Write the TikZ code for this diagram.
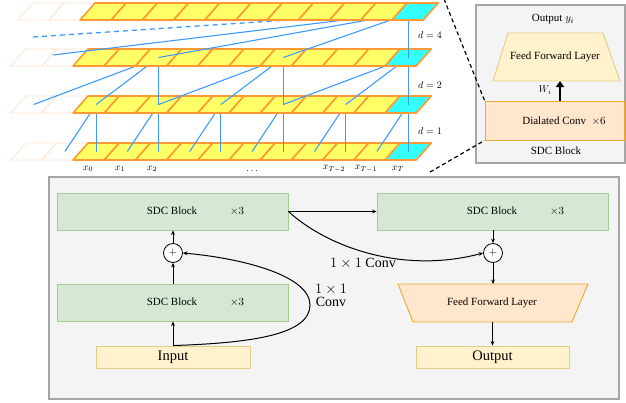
\documentclass[tikz,border=0pt]{standalone}
\usepackage{fontspec}
\setmainfont{Liberation Serif}
\usetikzlibrary{arrows.meta,calc}
\definecolor{cellyellow}{HTML}{FFFF66}
\definecolor{cellorange}{HTML}{FF9933}
\definecolor{cellcyan}{HTML}{33FFFF}
\definecolor{fadeorange}{HTML}{FFE2CC}
\definecolor{linkblue}{HTML}{3D9BFF}
\definecolor{greenfill}{HTML}{D5E8D4}
\definecolor{greendraw}{HTML}{A3CC91}
\definecolor{ioyfill}{HTML}{FFF2CC}
\definecolor{ioydraw}{HTML}{E5CC85}
\definecolor{ffofill}{HTML}{FFE6CC}
\definecolor{ffodraw}{HTML}{F0A830}
\definecolor{panelfill}{HTML}{F4F4F4}
\definecolor{paneldraw}{HTML}{A6A6A6}
\newcommand{\drawstrip}[3]{%
  \foreach \i in {-2,-1}{
    \draw[fadebox] ({73+#3+31.2*(\i)},{#2+17}) -- ++(31.2,0) -- ++(15,-17) -- ++(-31.2,0) -- cycle;
  }
  \foreach \i in {0,...,9}{
    \draw[cellbox] ({73+#3+31.2*(\i)},{#2+17}) -- ++(31.2,0) -- ++(15,-17) -- ++(-31.2,0) -- cycle;
  }
  \draw[cyanbox] ({73+#3+312},{#2+17}) -- ++(31.2,0) -- ++(15,-17) -- ++(-31.2,0) -- cycle;
}
\begin{document}
\begin{tikzpicture}[x=1pt,y=-1pt,
  fadebox/.style={draw=fadeorange, line width=0.8pt, line join=round},
  cellbox/.style={fill=cellyellow, draw=cellorange, line width=1.6pt, line join=round},
  cyanbox/.style={fill=cellcyan, draw=cellorange, line width=1.6pt, line join=round},
  link/.style={draw=linkblue, line width=1.1pt},
  dlabel/.style={font=\fontsize{10}{12}\selectfont, inner sep=0},
  xlabel/.style={font=\fontsize{10}{12}\selectfont, inner sep=0},
  zoomline/.style={draw=black, line width=1.2pt, dash pattern=on 4pt off 3pt},
  panel/.style={draw=paneldraw, fill=panelfill, line width=1.2pt, inner sep=0},
  greenbox/.style={draw=greendraw, fill=greenfill, line width=0.9pt, inner sep=0, minimum width=231pt, minimum height=37pt},
  iobox/.style={draw=ioydraw, fill=ioyfill, line width=0.9pt, inner sep=0, minimum width=154pt, minimum height=22pt, font=\fontsize{14.5}{16}\selectfont},
  txt/.style={font=\fontsize{11}{13}\selectfont, inner sep=0},
  bigtxt/.style={font=\fontsize{14}{15}\selectfont, inner sep=0},
  plus/.style={circle, draw=black, fill=white, line width=0.8pt, minimum size=19pt, inner sep=0, font=\fontsize{11}{11}\selectfont},
  arr/.style={draw=black, line width=1pt, -{Stealth[length=4.5pt,width=3.8pt]}}
]
\useasboundingbox (0,0) rectangle (626,402);

% ---------- cell centre coordinates ----------
\foreach \rr/\yt/\sh in {1/3/7, 2/49/0, 3/96/0, 4/143/0}{
  \foreach \i in {-2,...,10}{
    \coordinate (r\rr x\i) at ({96.1+\sh+31.2*(\i)},{\yt+8.5});
  }
}
\coordinate (s2) at (53,55);
\coordinate (s1) at (33,37);

% ---------- row 4 and d=1 links ----------
\drawstrip{4}{143}{0}
\foreach \j in {0,2,...,10}{
  \pgfmathtruncatemacro\jm{\j-1}
  \draw[link] (r4x\jm) -- (r3x\j);
  \draw[link] (r4x\j) -- (r3x\j);
}
% ---------- row 3 and d=2 links ----------
\drawstrip{3}{96}{0}
\foreach \j in {2,6,10}{
  \pgfmathtruncatemacro\ja{\j-4}
  \pgfmathtruncatemacro\jb{\j-2}
  \draw[link] (r3x\ja) -- (r2x\j);
  \draw[link] (r3x\jb) -- (r2x\j);
  \draw[link] (r3x\j) -- (r2x\j);
}
% ---------- row 2 and d=4 links ----------
\drawstrip{2}{49}{0}
\draw[link] (s2) -- (r1x10);
\draw[link] (r2x2) -- (r1x10);
\draw[link] (r2x6) -- (r1x10);
\draw[link] (r2x10) -- (r2x10 |- r1x10);
\draw[link, line width=1.3pt, dash pattern=on 5pt off 4pt] (s1) -- (r1x10);
% ---------- row 1 ----------
\drawstrip{1}{3}{7}

% labels
\node[dlabel] (d4) at (430,35) {$d=4$};
\node[dlabel] (d2) at (430,85) {$d=2$};
\node[dlabel] (d1) at (430,131) {$d=1$};
\node[xlabel] (l0) at (88,169) {$x_0$};
\node[xlabel] (l1) at (120,169) {$x_1$};
\node[xlabel] (l2) at (152,169) {$x_2$};
\node[xlabel] (ldots) at (252,171) {$\cdots$};
\node[xlabel] (l8) at (334,169) {$x_{T-2}$};
\node[xlabel] (l9) at (366,169) {$x_{T-1}$};
\node[xlabel] (l10) at (398,169) {$x_T$};

% ---------- top-right SDC block ----------
\node[panel, minimum width=149pt, minimum height=158pt] (sdcpanel) at (550.5,84) {};
\node[txt] (outy) at (553,19) {Output $y_i$};
\draw[draw=ioydraw, fill=ioyfill, line width=0.9pt] (508,33) -- (603,33) -- (620,81) -- (493,81) -- cycle;
\node[txt] (fftop) at (555,57) {Feed Forward Layer};
\node[draw=ffodraw, fill=ffofill, line width=0.9pt, inner sep=0, minimum width=139pt, minimum height=39pt] (dial) at (554.5,120.5) {};
\node[txt] (dialtxt) at (564,121) {Dialated Conv~~$\times6$};
\node[txt] (sdcname) at (556,151) {SDC Block};
\coordinate (ffin) at (560,81);
\draw[draw=black, line width=2.2pt, -{Triangle[length=6pt,width=8pt]}] (dial.north -| ffin) -- (ffin);
\node[font=\fontsize{10}{12}\selectfont, inner sep=0] (wi) at (545,90) {$W_i$};

% zoom lines
\coordinate (zA) at (444,-1);
\coordinate (zB) at (430,172);
\draw[zoomline] (zA) -- (dial.north west);
\draw[zoomline] (zB) -- (dial.south west);

% ---------- bottom panel ----------
\node[panel, minimum width=570pt, minimum height=222pt] (bpanel) at (334,288) {};
\node[greenbox] (sdcA) at (172.5,211.5) {};
\node[txt] (sdcAt) at (172,211) {SDC Block};
\node[txt] (sdcAx) at (237,211) {$\times3$};
\node[greenbox] (sdcB) at (172.5,302.5) {};
\node[txt] (sdcBt) at (172,302) {SDC Block};
\node[txt] (sdcBx) at (237,302) {$\times3$};
\node[greenbox] (sdcC) at (492.5,211.5) {};
\node[txt] (sdcCt) at (492,211) {SDC Block};
\node[txt] (sdcCx) at (557,211) {$\times3$};
\node[iobox] (input) at (173,357) {Input};
\node[iobox, minimum width=153pt] (output) at (492.5,357) {Output};
\node[plus] (p1) at (173,253) {$+$};
\node[plus] (p2) at (493,253) {$+$};
\draw[draw=ffodraw, fill=ffofill, line width=0.9pt] (398,284) -- (588,284) -- (572,322) -- (413,322) -- cycle;
\node[txt] (ffb) at (492,303) {Feed Forward Layer};
\coordinate (ffbtop) at (493,284);
\coordinate (ffbbot) at (492.5,322);

\draw[arr] (input.north) -- (sdcB.south -| input.north);
\draw[arr] (sdcB.north -| p1) -- (p1.south);
\draw[arr] (p1.north) -- (sdcA.south -| p1);
\draw[arr] (input.north) .. controls (250,343) and (310,335) .. (310,305) .. controls (310,275) and (240,258) .. (p1.east);
\node[bigtxt, align=center] (convA) at (331,295) {$1\times1$\\[-2pt]Conv};

\draw[arr] (sdcA.east) -- (sdcC.west);
\draw[arr] (sdcA.east) .. controls (325,245) and (400,275) .. (p2.west);
\node[bigtxt] (convB) at (363,263) {$1\times1$ Conv};
\draw[arr] (sdcC.south -| p2) -- (p2.north);
\draw[arr] (p2.south) -- (ffbtop);
\draw[arr] (ffbbot) -- (output.north);
\end{tikzpicture}
\end{document}
